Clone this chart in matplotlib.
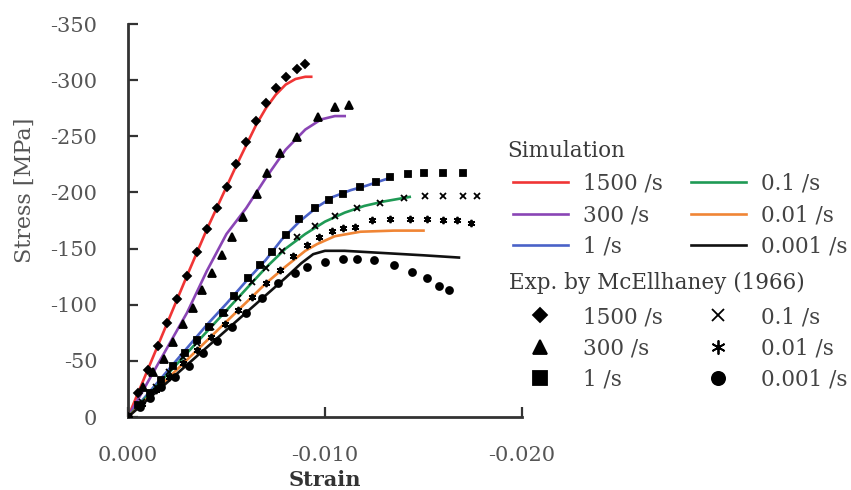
import matplotlib
matplotlib.use("Agg")
import matplotlib.pyplot as plt
from matplotlib.ticker import FormatStrFormatter

plt.rcParams['font.family'] = ['DejaVu Serif']
plt.rcParams['axes.unicode_minus'] = False

# ---------------- data ----------------
rate_labels = ["1500 /s", "300 /s", "1 /s", "0.1 /s", "0.01 /s", "0.001 /s"]
sim_colors = ["#f03535", "#8a45b5", "#4a62c8", "#1f9a55", "#f08535", "#111111"]

# Simulation curves (strain, stress [MPa])
sim_1500_strain = [0, -0.001, -0.002, -0.003, -0.004, -0.005, -0.0055, -0.006, -0.0065, -0.007, -0.0075, -0.008, -0.0085, -0.009, -0.0093]
sim_1500_stress = [0, -42, -84, -126, -167, -205, -224, -242, -260, -275, -287, -296, -301, -303, -303]

sim_300_strain = [0, -0.001, -0.002, -0.003, -0.004, -0.005, -0.006, -0.007, -0.008, -0.009, -0.0098, -0.0105, -0.011]
sim_300_stress = [0, -31, -62, -93, -130, -163, -186, -213, -238, -256, -265, -268, -268]

sim_1_strain = [0, -0.001, -0.002, -0.003, -0.004, -0.005, -0.006, -0.007, -0.0078, -0.0087, -0.0096, -0.0104, -0.0113, -0.0121, -0.0133]
sim_1_stress = [0, -20.5, -41, -61.5, -82, -101, -121, -140, -158, -174, -187, -196, -202, -206, -213]

sim_01_strain = [0, -0.001, -0.002, -0.003, -0.004, -0.005, -0.006, -0.007, -0.008, -0.009, -0.010, -0.011, -0.012, -0.013, -0.0143]
sim_01_stress = [0, -19, -38, -57, -76, -95, -114, -133, -150, -163, -174, -182, -188, -192, -196]

sim_001_strain = [0, -0.001, -0.002, -0.003, -0.004, -0.005, -0.006, -0.007, -0.008, -0.009, -0.0096, -0.0105, -0.0118, -0.0135, -0.015]
sim_001_stress = [0, -17, -34, -51, -68, -85, -102, -119, -134, -148, -154, -161, -165, -166, -166]

sim_0001_strain = [0, -0.001, -0.002, -0.003, -0.004, -0.005, -0.006, -0.007, -0.008, -0.0088, -0.0094, -0.010, -0.011, -0.013, -0.015, -0.0168]
sim_0001_stress = [0, -15.5, -31, -46.5, -62, -77.5, -93, -108.5, -124, -137, -145, -148, -148, -146, -144, -142]

# Experiments by McEllhaney (1966)
exp_1500_strain = [0, -0.0005, -0.001, -0.0015, -0.002, -0.0025, -0.003, -0.0035, -0.004, -0.0045, -0.005, -0.0055, -0.006, -0.0065, -0.007, -0.0075, -0.008, -0.0086, -0.009]
exp_1500_stress = [0, -21, -42, -63, -84, -105, -126, -147, -167, -186, -205, -225, -245, -264, -280, -293, -303, -310, -314]

exp_300_strain = [0, -0.00076, -0.00127, -0.00183, -0.00228, -0.0028, -0.0033, -0.00376, -0.00426, -0.00477, -0.00528, -0.00584, -0.00655, -0.00706, -0.00772, -0.00858, -0.00964, -0.0105, -0.0112]
exp_300_stress = [0, -27, -40, -52, -67, -83, -97, -113, -128, -144, -160, -178, -199, -217, -235, -249, -267, -276, -278]

exp_1_strain = [0, -0.0005, -0.0011, -0.0017, -0.0023, -0.0029, -0.0035, -0.0041, -0.0048, -0.0054, -0.0061, -0.0067, -0.0073, -0.0080, -0.0087, -0.0095, -0.0102, -0.0109, -0.0118, -0.0126, -0.0133, -0.0142, -0.0150, -0.0160, -0.0170]
exp_1_stress = [0, -11, -21, -33, -45, -57, -69, -80, -93, -108, -124, -135, -147, -162, -176, -186, -193, -199, -205, -209, -214, -216, -217, -217, -217]

exp_01_strain = [0, -0.0007, -0.0014, -0.0021, -0.0028, -0.0035, -0.0042, -0.0049, -0.0056, -0.0063, -0.0070, -0.0078, -0.0086, -0.0095, -0.0105, -0.0116, -0.0128, -0.0140, -0.0151, -0.0160, -0.0170, -0.0177]
exp_01_stress = [0, -13, -27, -40, -53, -66, -80, -93, -106, -120, -133, -148, -160, -170, -179, -186, -191, -195, -197, -197, -197, -197]

exp_001_strain = [0, -0.0007, -0.0014, -0.0021, -0.0028, -0.0035, -0.0042, -0.0049, -0.0056, -0.0063, -0.0070, -0.0077, -0.0084, -0.0091, -0.0097, -0.01035, -0.0109, -0.0115, -0.0124, -0.0133, -0.0143, -0.0152, -0.0160, -0.0167, -0.0174]
exp_001_stress = [0, -12, -24, -36, -48, -60, -71, -83, -95, -107, -119, -131, -143, -153, -160, -166, -168, -169, -175, -176, -176, -176, -175, -175, -173]

exp_0001_strain = [0, -0.0006, -0.0011, -0.0017, -0.0024, -0.0031, -0.0038, -0.0045, -0.0053, -0.0060, -0.0068, -0.0076, -0.0085, -0.0091, -0.0100, -0.0109, -0.0116, -0.0125, -0.0135, -0.0144, -0.0152, -0.0158, -0.0163]
exp_0001_stress = [0, -9, -17, -27, -36, -45, -57, -68, -80, -93, -106, -119, -128, -134, -138, -141, -141, -140, -135, -129, -124, -117, -113]

y_ticks = [0, -50, -100, -150, -200, -250, -300, -350]
x_ticks = [0.0, -0.010, -0.020]

# ---------------- figure ----------------
W, H = 851, 490
fig = plt.figure(figsize=(W / 100, H / 100), dpi=100)
ax = fig.add_axes([128 / W, 1 - 417 / H, (522 - 128) / W, (417 - 24) / H])

sims = [(sim_1500_strain, sim_1500_stress), (sim_300_strain, sim_300_stress),
        (sim_1_strain, sim_1_stress), (sim_01_strain, sim_01_stress),
        (sim_001_strain, sim_001_stress), (sim_0001_strain, sim_0001_stress)]
exps = [(exp_1500_strain, exp_1500_stress), (exp_300_strain, exp_300_stress),
        (exp_1_strain, exp_1_stress), (exp_01_strain, exp_01_stress),
        (exp_001_strain, exp_001_stress), (exp_0001_strain, exp_0001_stress)]
markers = ["D", "^", "s", "x", (6, 2, 0), "o"]
msizes = [4.0, 5.2, 5.0, 4.8, 5.3, 5.0]

sim_handles = []
for (xs, ys), c, lab in zip(sims, sim_colors, rate_labels):
    h, = ax.plot(xs, ys, color=c, lw=1.9, zorder=2, label=lab)
    sim_handles.append(h)

exp_handles = []
for (xs, ys), m, ms, lab in zip(exps, markers, msizes, rate_labels):
    h, = ax.plot(xs, ys, ls="none", marker=m, ms=ms, color="black",
                 mec="black", mew=1.3, zorder=3, label=lab)
    exp_handles.append(h)

ax.set_xlim(0, -0.020)
ax.set_ylim(0, -350)
ax.set_yticks(y_ticks)
ax.set_xticks(x_ticks)
ax.xaxis.set_major_formatter(FormatStrFormatter('%.3f'))
ax.yaxis.set_major_formatter(FormatStrFormatter('%d'))

for s in ["top", "right"]:
    ax.spines[s].set_visible(False)
for s in ["left", "bottom"]:
    ax.spines[s].set_linewidth(2.0)
    ax.spines[s].set_color("#333333")

ax.tick_params(axis="both", direction="in", length=7, width=1.6, color="#333333",
               labelsize=15, labelcolor="#555555")
ax.tick_params(axis="y", pad=22)
ax.tick_params(axis="x", pad=21)

ax.set_ylabel("Stress [MPa]", fontsize=16, color="#555555", va="center")
ax.yaxis.set_label_coords((25 - 128) / (522 - 128), (417 - 190) / (417 - 24))
ax.set_xlabel("Strain", fontsize=15, color="#333333", fontweight="bold", va="center")
ax.xaxis.set_label_coords(0.5, (417 - 480) / (417 - 24))

# ---------------- legends ----------------
common = dict(frameon=False, ncol=2, fontsize=15.5, handlelength=2.55,
              handletextpad=0.68, columnspacing=1.33, labelspacing=0.42,
              borderpad=0, borderaxespad=0, loc="upper left",
              bbox_transform=fig.transFigure, labelcolor="#444444")

leg1 = ax.legend(handles=sim_handles, bbox_to_anchor=(513 / W, 1 - 173 / H), **common)
ax.add_artist(leg1)
leg2 = ax.legend(handles=exp_handles, bbox_to_anchor=(513 / W, 1 - 306 / H),
                 numpoints=1, markerscale=1.9, **common)

fig.text(507 / W, 1 - 151 / H, "Simulation", fontsize=15.5, color="#3a3a3a",
         ha="left", va="center")
fig.text(509 / W, 1 - 283 / H, "Exp. by McEllhaney (1966)", fontsize=15.5,
         color="#3a3a3a", ha="left", va="center")

fig.savefig("out.png", dpi=100)
